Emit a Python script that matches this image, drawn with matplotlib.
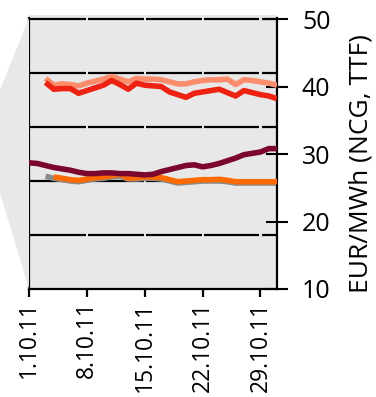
import matplotlib.pyplot as plt
from matplotlib.patches import Polygon

plt.rcParams['font.family'] = ['Open Sans', 'DejaVu Sans']

# days counted from 1.10.2011
days_red = list(range(2, 31))
red = [40.6, 39.6, 39.7, 39.7, 39.0, 39.4, 39.8, 40.2, 40.9, 40.3, 39.6, 40.5,
       40.2, 40.1, 40.0, 39.2, 38.8, 38.4, 39.0, 39.2, 39.4, 39.6, 39.1, 38.6,
       39.4, 39.1, 38.8, 38.6, 38.2]
salmon = [41.2, 40.2, 40.4, 40.3, 40.1, 40.5, 40.8, 41.1, 41.5, 41.1, 40.7, 41.2,
          41.1, 41.1, 41.0, 40.7, 40.4, 40.4, 40.7, 40.9, 41.0, 41.0, 41.1, 40.3,
          41.0, 40.9, 40.7, 40.5, 40.2]

days_maroon = list(range(0, 31))
maroon = [28.7, 28.6, 28.3, 28.0, 27.8, 27.6, 27.3, 27.1, 27.1, 27.2, 27.2, 27.1,
          27.1, 27.0, 26.9, 27.0, 27.4, 27.7, 28.0, 28.3, 28.4, 28.1, 28.3, 28.6,
          29.0, 29.4, 29.9, 30.1, 30.3, 30.8, 30.8]

days_gray = list(range(2, 31))
gray = [26.7, 26.4, 26.2, 26.0, 25.9, 26.1, 26.3, 26.4, 26.6, 26.7, 26.3, 26.3,
        26.4, 26.4, 26.3, 26.0, 25.7, 25.8, 25.9, 26.0, 26.0, 26.0, 25.9, 25.7,
        25.7, 25.7, 25.7, 25.7, 25.7]

days_orange = list(range(3, 31))
orange = [26.6, 26.4, 26.2, 26.1, 26.3, 26.5, 26.6, 26.8, 27.0, 26.4, 26.5, 26.6,
          26.6, 26.5, 26.2, 25.9, 26.0, 26.1, 26.2, 26.2, 26.25, 26.1, 25.9, 25.9,
          25.9, 25.9, 25.9, 25.9]

xtick_pos = [0, 7, 14, 21, 28]
xtick_labels = ['1.10.11', '8.10.11', '15.10.11', '22.10.11', '29.10.11']
yticks = [10, 20, 30, 40, 50]
grid_vals = [50, 42, 34, 26, 18]

fig = plt.figure(figsize=(3.76, 3.97), dpi=100)
W, H = 376, 397

# grey "zoom" wedge on the left
wedge = Polygon([(29 / W, 1 - 18 / H), (0, 1 - 90 / H), (0, 1 - 193 / H),
                 (29 / W, 1 - 289 / H)], closed=True, transform=fig.transFigure,
                facecolor='#e8e8e8', edgecolor='none', zorder=0)
fig.patches.append(wedge)

ax = fig.add_axes([29 / W, 108 / H, 248 / W, 274 / H])
ax.set_facecolor('#e8e8e8')
ax.set_xlim(0, 30)
ax.set_ylim(10, 50.6)

# broken horizontal grid lines
gap = 0.13
edges = [0, 7, 14, 21, 28, 30]
for g in grid_vals:
    for a, b in zip(edges[:-1], edges[1:]):
        x0 = a + (gap if a > 0 else 0)
        x1 = b - (gap if b < 30 else 0)
        ax.hlines(g, x0, x1, color='black', lw=1.6, zorder=1)

lw = 4.0
ax.plot(days_gray, gray, color='#8a8a8a', lw=lw, solid_capstyle='butt', zorder=2)
ax.plot(days_orange, orange, color='#ff6a00', lw=lw, solid_capstyle='butt', zorder=3)
ax.plot(days_maroon, maroon, color='#7b0630', lw=lw, solid_capstyle='butt', zorder=3)
ax.plot(days_red, salmon, color='#fb8c6c', lw=lw, solid_capstyle='butt', zorder=3)
ax.plot(days_red, red, color='#ee2212', lw=lw, solid_capstyle='butt', zorder=4)

ax.spines['top'].set_visible(False)
for s in ['left', 'right', 'bottom']:
    ax.spines[s].set_linewidth(1.6)
ax.spines['left'].set_bounds(10, 50.2)
ax.spines['right'].set_bounds(10, 50.2)

ax.yaxis.tick_right()
ax.set_yticks(yticks)
ax.tick_params(axis='y', direction='inout', length=16, width=1.5, pad=10,
               labelsize=18, colors='black')
ax.set_xticks(xtick_pos)
ax.set_xticklabels(xtick_labels, rotation=90)
ax.tick_params(axis='x', direction='out', length=6, width=1.6, pad=3,
               labelsize=16.5)

fig.text(361 / W, 1 - 293 / H, 'EUR/MWh (NCG, TTF)', rotation=90,
         ha='center', va='bottom', fontsize=19)

fig.savefig('out.png', dpi=100)
